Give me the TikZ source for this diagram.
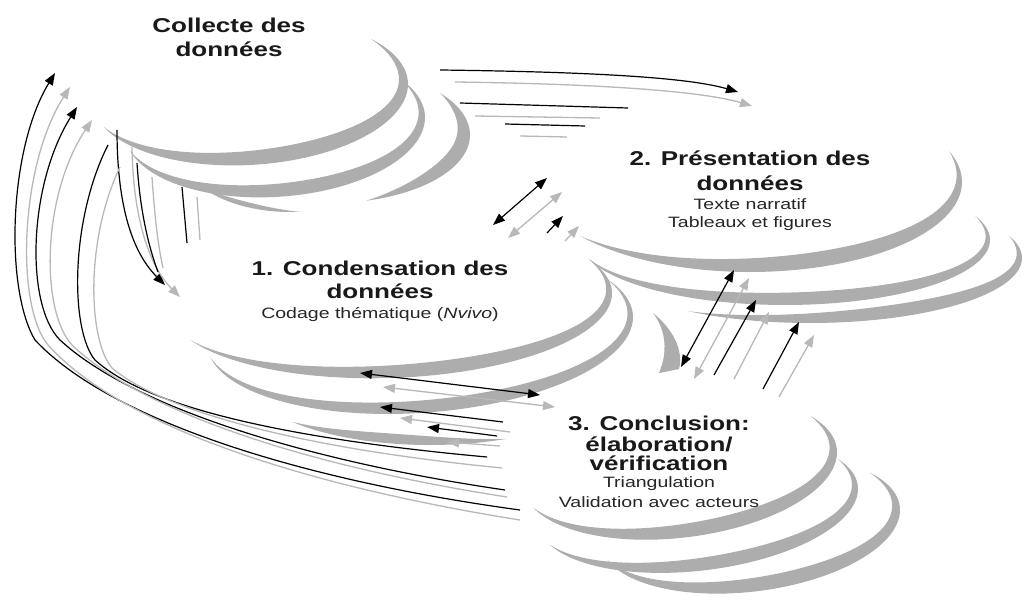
\documentclass[tikz,border=0pt]{standalone}
\usepackage{fontspec}
\newfontfamily\tfont[FakeStretch=1.3]{Liberation Sans}
\usetikzlibrary{arrows.meta}
% crescent: cx, cy, a, b, shear, theta1, theta2, max thickness
\newcommand\crescent[8]{\fill[cres] plot[domain=#6:#7,samples=70,variable=\t] ({#1+#3*cos(\t)},{#2+#4*sin(\t)+#5*#3*cos(\t)}) -- plot[domain=#7:#6,samples=70,variable=\t] ({#1+(#3-#8*sin((180/(#7-(#6)))*(\t-(#6))))*cos(\t)},{#2+(#4-#8*sin((180/(#7-(#6)))*(\t-(#6))))*sin(\t)+#5*(#3-#8*sin((180/(#7-(#6)))*(\t-(#6))))*cos(\t)}) -- cycle;}
\begin{document}
\begin{tikzpicture}[x=1pt,y=1pt,
  cres/.style={fill=black!32},
  kl/.style={line width=1.2pt,black},
  gl/.style={line width=1.3pt,black!28},
  karr/.style={kl,-{Triangle[length=12pt,width=9pt]}},
  garr/.style={gl,-{Triangle[length=12pt,width=9pt]}},
  kdbl/.style={kl,{Triangle[length=12pt,width=9pt]}-{Triangle[length=12pt,width=9pt]}},
  gdbl/.style={gl,{Triangle[length=12pt,width=9pt]}-{Triangle[length=12pt,width=9pt]}},
  big/.style={font=\tfont\bfseries\fontsize{20}{22}\selectfont,anchor=base,inner sep=0pt,text=black!90},
  small/.style={font=\tfont\fontsize{15}{17}\selectfont,anchor=base,inner sep=0pt,text=black!85}]
\useasboundingbox (0,0) rectangle (1025,-607);
\fill[white] (0,0) rectangle (1025,-607);
% ---------- Collecte crescents
\crescent{250}{-92}{158}{73}{0.05}{-158}{40}{16}
\crescent{275}{-125}{150}{72}{0.05}{-165}{32}{14}
\crescent{330}{-135}{140}{68}{0}{-75}{38}{15}
\crescent{290}{-150}{110}{62}{0}{-145}{-85}{5}
% ---------- Presentation crescents
\crescent{750}{-182}{212}{90}{0}{-143}{20}{16}
\crescent{785}{-240}{205}{65}{0}{-164}{22}{13}
\crescent{810}{-258}{212}{65}{0}{-125}{20}{14}
% ---------- Condensation crescents
\crescent{390}{-300}{222}{78}{0.03}{-154}{26}{14}
\crescent{420}{-330}{213}{83}{0.06}{-170}{29}{13}
\crescent{430}{-380}{180}{65}{0}{-140}{-65}{10}
\fill[cres] (653,-313) .. controls (672,-328) and (684,-350) .. (679,-369) -- (659,-373) .. controls (668,-352) and (666,-330) .. (653,-313) -- cycle;
% ---------- Conclusion crescents
\crescent{680}{-468}{157}{70}{0.1}{-159}{34}{15}
\crescent{698}{-505}{160}{66}{0.1}{-158}{29}{14}
\crescent{750}{-525}{150}{67}{0.1}{-162}{37}{15}
% ---------- Collecte -> Presentation
\draw[karr] (440,-70) .. controls (600,-72) and (690,-78) .. (738,-92);
\draw[garr] (455,-82) .. controls (610,-84) and (705,-92) .. (752,-106);
\draw[kl] (460,-103) -- (628,-108);
\draw[gl] (475,-116) -- (600,-118);
\draw[kl] (505,-124) -- (585,-126);
\draw[gl] (520,-136) -- (567,-137);
% ---------- Presentation <-> Condensation
\draw[kdbl] (493,-225) -- (547,-178);
\draw[gdbl] (508,-238) -- (562,-192);
\draw[karr] (547,-233) -- (563,-216);
\draw[garr] (565,-241) -- (579,-226);
% ---------- Presentation <-> Conclusion
\draw[kdbl] (681,-367) -- (734,-270);
\draw[gdbl] (694,-379) -- (749,-278);
\draw[karr] (714,-375) -- (756,-300);
\draw[garr] (734,-379) -- (769,-312);
\draw[karr] (763,-389) -- (799,-322);
\draw[garr] (779,-397) -- (814,-335);
% ---------- Condensation <-> Conclusion
\draw[kdbl] (360,-373) -- (540,-395);
\draw[gdbl] (383,-387) -- (555,-407);
\draw[karr] (503,-422) -- (380,-407);
\draw[garr] (510,-432) -- (400,-418);
\draw[karr] (497,-436) -- (427,-427);
\draw[garr] (500,-446) -- (447,-442);
% ---------- Collecte -> Condensation
\draw[karr] (117,-130) .. controls (117,-200) and (130,-250) .. (165,-285);
\draw[garr] (132,-147) .. controls (133,-215) and (148,-265) .. (180,-297);
\draw[kl] (137,-163) .. controls (140,-210) and (148,-245) .. (158,-272);
\draw[gl] (152,-177) .. controls (155,-220) and (158,-245) .. (163,-268);
\draw[kl] (182,-187) -- (187,-243);
\draw[gl] (197,-197) -- (200,-240);
% ---------- Conclusion -> Collecte (long loops)
\draw[karr] (520,-510) .. controls (300,-480) and (110,-420) .. (35,-340) .. controls (5,-290) and (8,-150) .. (55,-73);
\draw[garr] (520,-520) .. controls (300,-485) and (120,-425) .. (48,-345) .. controls (15,-305) and (20,-165) .. (70,-87);
\draw[karr] (505,-490) .. controls (300,-460) and (130,-405) .. (60,-340) .. controls (25,-305) and (28,-185) .. (77,-107);
\draw[garr] (507,-497) .. controls (300,-465) and (140,-410) .. (72,-345) .. controls (40,-310) and (42,-195) .. (92,-120);
\draw[kl] (487,-457) .. controls (300,-440) and (150,-410) .. (95,-360) .. controls (70,-330) and (70,-220) .. (108,-145);
\draw[gl] (502,-468) .. controls (300,-448) and (165,-412) .. (112,-368) .. controls (88,-340) and (85,-240) .. (120,-167);
% ---------- Texts
\node[big] (c1) at (229,-33) {Collecte des};
\node[big] (c2) at (229,-57) {données};
\node[big] (p1) at (750,-165) {2. Présentation des};
\node[big] (p2) at (750,-190) {données};
\node[small] (p3) at (750,-209) {Texte narratif};
\node[small] (p4) at (750,-227) {Tableaux et figures};
\node[big] (d1) at (380,-275) {1. Condensation des};
\node[big] (d2) at (380,-298) {données};
\node[small] (d3) at (380,-318) {Codage thématique (\textit{Nvivo})};
\node[big] (k1) at (659,-430) {3. Conclusion:};
\node[big] (k2) at (659,-451) {élaboration/};
\node[big] (k3) at (659,-470) {vérification};
\node[small] (k4) at (659,-487) {Triangulation};
\node[small] (k5) at (659,-507) {Validation avec acteurs};
\end{tikzpicture}
\end{document}
